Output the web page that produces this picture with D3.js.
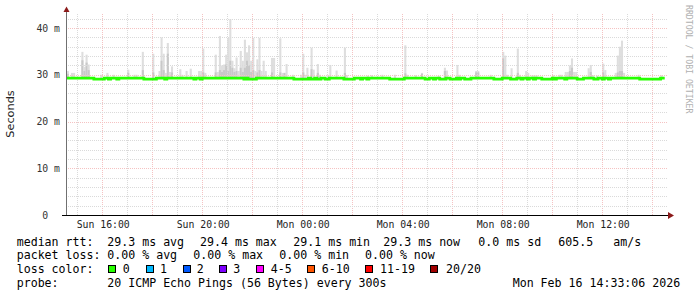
<!DOCTYPE html>
<html><head><meta charset="utf-8">
<script src="https://cdn.jsdelivr.net/npm/d3@7"></script>
<style>
body{margin:0;background:#fff}
text{font-family:"DejaVu Sans Mono",monospace;white-space:pre}
</style>
</head><body>
<svg id="c" width="697" height="297"></svg>
<script>
// ---- data ----
const startTime = Date.UTC(2026, 1, 15, 14, 33, 6);
const endTime = Date.UTC(2026, 1, 16, 14, 33, 6);
const firstStep = Date.UTC(2026, 1, 15, 14, 35, 0);
const stepSeconds = 300;
// median rtt (ms) as run-length pairs [count, value]
const medianRuns = [
 [13,29.3],[5,29.05],[2,29.3],[1,29.05],[3,29.3],[1,29.05],[12,29.3],[6,29.05],[4,29.3],[1,29.05],
 [13,29.3],[1,29.05],[2,29.3],[1,29.05],[20,29.3],[1,29.05],[1,29.3],[4,29.05],[18,29.3],[7,29.05],
 [1,29.3],[2,29.05],[1,29.3],[2,29.05],[2,29.3],[2,29.05],[7,29.3],[5,29.05],[3,29.3],[1,29.05],
 [2,29.3],[1,29.05],[10,29.3],[7,29.05],[10,29.3],[2,29.05],[2,29.3],[1,29.05],[2,29.3],[3,29.05],
 [2,29.3],[3,29.05],[1,29.3],[1,29.05],[2,29.3],[3,29.05],[11,29.3],[4,29.05],[4,29.3],[3,29.05],
 [2,29.3],[1,29.05],[2,29.3],[1,29.05],[2,29.3],[1,29.05],[3,29.3],[5,29.05],[1,29.3],[1,29.05],
 [4,29.3],[1,29.05],[5,29.3],[3,29.05],[5,29.3],[2,29.05],[2,29.3],[1,29.05],[2,29.3],[1,29.05],
 [14,29.3],[10,29.05],[2,29.3]
];
// smoke: [step index, max ping ms, upper-quartile ms (0 = none)]
const smoke = [
 [0,30.8,30.2],[2,30.4,0],[3,30.4,0],[7,34.9,33.1],[8,31.7,30.8],[9,34.3,32.6],[10,32.2,31.0],
 [16,30.0,0],[19,30.4,0],[22,30.0,0],[29,31.1,30.4],[32,30.0,0],[33,30.0,0],[36,34.9,31.0],
 [41,34.5,30.5],[44,30.8,0],[45,38.0,33.0],[46,34.5,31.0],[47,30.4,0],[48,36.8,34.5],[49,30.6,0],
 [50,31.8,30.5],[54,31.2,0],[55,30.0,0],[57,30.8,0],[59,31.3,0],[63,30.8,0],[64,30.8,0],
 [65,35.6,30.5],[66,30.4,0],[71,34.3,30.5],[72,30.6,0],[73,38.3,31.0],[74,32.0,30.6],[75,32.2,31.0],
 [76,34.3,32.2],[77,37.9,30.8],[78,41.9,33.0],[79,33.0,31.5],[80,31.4,30.6],[81,33.7,30.8],
 [82,30.8,0],[83,35.1,31.5],[84,33.0,30.6],[85,37.5,31.5],[86,34.8,33.0],[87,36.3,32.0],
 [88,33.0,30.6],[89,37.9,31.0],[90,30.8,0],[91,33.3,30.5],[92,37.9,31.0],[93,30.8,0],[94,33.0,0],
 [95,30.8,0],[98,33.6,30.5],[99,33.6,0],[102,37.8,30.5],[103,30.4,0],[104,30.4,30.4],[105,32.3,0],
 [108,30.0,0],[112,30.0,0],[113,34.5,30.5],[114,30.0,0],[115,31.5,0],[117,35.8,31.2],[118,31.1,0],
 [120,32.3,30.4],[121,30.0,0],[125,29.9,0],[126,32.1,0],[129,30.9,0],[133,35.8,30.4],[134,29.9,0],
 [144,29.8,0],[146,29.9,0],[151,30.0,0],[157,30.0,0],[162,36.3,30.3],[163,30.0,0],[167,29.9,0],
 [170,30.4,30.2],[178,29.8,0],[181,31.5,30.8],[182,30.9,0],[187,32.1,0],[188,30.0,0],
 [196,30.8,30.5],[197,30.8,30.5],[203,30.0,0],[209,34.9,33.5],[210,34.1,0],[211,30.0,0],
 [213,31.4,0],[216,35.6,30.4],[217,30.0,0],[220,30.8,0],[221,30.4,0],[223,29.9,0],[224,29.9,0],
 [225,29.9,0],[233,29.9,0],[236,30.0,0],[237,30.0,0],[239,30.6,0],[240,30.6,0],[241,32.0,30.8],
 [242,33.5,31.5],[243,30.6,0],[244,30.6,0],[250,31.4,0],[251,32.1,30.6],[252,29.9,0],[254,29.8,0],
 [257,32.4,30.5],[258,31.0,0],[263,30.4,0],[264,34.1,30.5],[265,36.0,30.8],[266,37.3,30.8],
 [267,30.4,0],[274,30.0,0],[285,29.9,0]
];
const smokeFloor = 29.2;
const yTickValues = [0, 10, 20, 30, 40];
const yMinorValues = [2,4,6,8,12,14,16,18,22,24,26,28,32,34,36,38,42];
const yMax = 43;
const lossLabels = ["0","1","2","3","4-5","6-10","11-19","20/20"];
const lossColors = ["#26ff00","#00b8ff","#0059ff","#7e00ff","#ff00ff","#ff5500","#ff0000","#a10000"];
const legendLine1 = ["median rtt:","29.3 ms avg","29.4 ms max","29.1 ms min","29.3 ms now","0.0 ms sd","605.5","am/s"];
const legendLine2 = ["packet loss:","0.00 % avg","0.00 % max","0.00 % min","0.00 % now"];
const legendLine4 = ["probe:","20 ICMP Echo Pings (56 Bytes) every 300s","Mon Feb 16 14:33:06 2026"];

// ---- layout ----
const L = 66, R = 666, T = 14, B = 215;
const svg = d3.select("#c");
svg.append("rect").attr("width",697).attr("height",297).attr("fill","#fff");

const x = d3.scaleUtc().domain([startTime, endTime]).range([L, R]);
const y = d3.scaleLinear().domain([0, yMax]).range([B, T]);

const stepTime = i => new Date(firstStep + i * stepSeconds * 1000);

// smoke
const gS = svg.append("g");
smoke.forEach(([i, mx, mid]) => {
  const x0 = x(stepTime(i)), x1 = x(stepTime(i + 1));
  gS.append("rect").attr("x", x0).attr("width", x1 - x0)
    .attr("y", y(mx)).attr("height", y(smokeFloor) - y(mx)).attr("fill", "#dedede");
  if (mid > 0) gS.append("rect").attr("x", x0).attr("width", x1 - x0)
    .attr("y", y(mid)).attr("height", y(smokeFloor) - y(mid)).attr("fill", "#c8c8c8");
});

// grid
const gG = svg.append("g").attr("shape-rendering","crispEdges");
const hours = d3.utcHour.range(new Date(startTime), new Date(endTime));
hours.forEach(h => {
  const major = h.getUTCHours() % 2 === 0;
  gG.append("line").attr("x1", Math.round(x(h))+0.5).attr("x2", Math.round(x(h))+0.5)
    .attr("y1", T).attr("y2", B)
    .attr("stroke", major ? "#f5c2c2" : "#dadada").attr("stroke-dasharray","1,1");
});
yMinorValues.forEach(v => {
  gG.append("line").attr("x1", L).attr("x2", R+2).attr("y1", Math.round(y(v))+0.5).attr("y2", Math.round(y(v))+0.5)
    .attr("stroke", "#dadada").attr("stroke-dasharray","1,1");
});
yTickValues.filter(v => v > 0).forEach(v => {
  gG.append("line").attr("x1", L).attr("x2", R+2).attr("y1", Math.round(y(v))+0.5).attr("y2", Math.round(y(v))+0.5)
    .attr("stroke", "#f5c2c2").attr("stroke-dasharray","1,1");
});

// median line
const medPts = [];
let idx = 0;
medianRuns.forEach(([n, v]) => { for (let k = 0; k < n; k++) { medPts.push([stepTime(idx), v]); idx++; } });
medPts.push([stepTime(idx), medPts[medPts.length - 1][1]]);
svg.append("path").datum(medPts)
  .attr("d", d3.line().x(d => x(d[0])).y(d => y(d[1])).curve(d3.curveStepAfter))
  .attr("fill","none").attr("stroke", lossColors[0]).attr("stroke-width", 2.8);

// axes
const gA = svg.append("g").attr("shape-rendering","crispEdges");
gA.append("line").attr("x1", 66.5).attr("x2", 66.5).attr("y1", 10).attr("y2", B).attr("stroke","#707070");
gA.append("line").attr("x1", 62).attr("x2", 670).attr("y1", B+0.5).attr("y2", B+0.5).attr("stroke","#000");
svg.append("path").attr("d","M63.5,12 L66.5,6.5 L69.5,12 Z").attr("fill","#8b1a1a");
svg.append("path").attr("d","M668,212 L674,215.5 L668,219 Z").attr("fill","#8b1a1a");

// y tick labels
yTickValues.forEach(v => {
  svg.append("text").attr("x", 60).attr("y", y(v) + 3.5).attr("text-anchor","end")
    .attr("font-size","9.8px").attr("fill","#333")
    .text(v === 0 ? "0  " : v + " m");
});
// x labels
d3.utcHour.every(4).range(new Date(startTime), new Date(endTime)).forEach(h => {
  svg.append("text").attr("x", x(h) + 1).attr("y", 227.5).attr("text-anchor","middle")
    .attr("font-size","9.8px").attr("fill","#222").text(d3.utcFormat("%a %H:%M")(h));
});

// y axis title
svg.append("text").attr("transform","translate(14,114) rotate(-90)").attr("text-anchor","middle")
  .style("font-family","'DejaVu Sans',sans-serif").attr("font-size","11.3px").attr("fill","#222").text("Seconds");
// watermark
svg.append("text").attr("transform","translate(685.5,5) rotate(90)").attr("text-anchor","start")
  .attr("font-size","8.2px").attr("fill","#b0b0b0").text("RRDTOOL / TOBI OETIKER");

// legend
const fs = "11.6px";
const l1x = [16.7,107.3,200,293.3,383.3,478.3,558.3,613.3];
legendLine1.forEach((s,i) => svg.append("text").attr("x", l1x[i]).attr("y", 245.8).attr("font-size",fs).text(s));
const l2x = [16.7,107.3,193.3,279.3,365];
legendLine2.forEach((s,i) => svg.append("text").attr("x", l2x[i]).attr("y", 259.2).attr("font-size",fs).text(s));
svg.append("text").attr("x",16.7).attr("y",273.2).attr("font-size",fs).text("loss color:");
const boxX = [108.3,145.7,182.7,219.3,256,306.7,365,430];
const labX = [122.7,160,196.7,233.3,270.7,321.7,380,446];
lossLabels.forEach((s,i) => {
  svg.append("rect").attr("x", boxX[i]+0.5).attr("y", 265.5).attr("width",7).attr("height",7)
    .attr("fill", lossColors[i]).attr("stroke","#000").attr("shape-rendering","crispEdges");
  svg.append("text").attr("x", labX[i]).attr("y", 273.2).attr("font-size",fs).text(s);
});
const l4x = [16.7,107.3,512.7];
legendLine4.forEach((s,i) => svg.append("text").attr("x", l4x[i]).attr("y", 286.8).attr("font-size",fs).text(s));
</script>
</body></html>
